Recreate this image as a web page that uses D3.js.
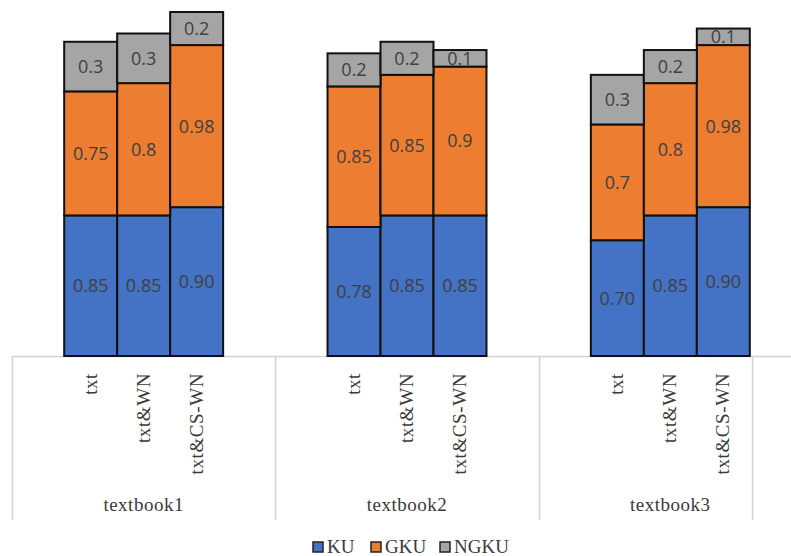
<!DOCTYPE html>
<html>
<head>
<meta charset="utf-8">
<script src="https://cdn.jsdelivr.net/npm/d3@7"></script>
<style>
  body { margin: 0; background: #fff; }
  svg { display: block; }
</style>
</head>
<body>
<div id="chart"></div>
<script>
// data
var groups = ["textbook1", "textbook2", "textbook3"];
var methods = ["txt", "txt&WN", "txt&CS-WN"];
var seriesNames = ["KU", "GKU", "NGKU"];
var colors = ["#4472C4", "#ED7D31", "#A5A5A5"];

// one row per group, one value per method
var KU   = [[0.85, 0.85, 0.90], [0.78, 0.85, 0.85], [0.70, 0.85, 0.90]];
var GKU  = [[0.75, 0.8, 0.98], [0.85, 0.85, 0.9], [0.7, 0.8, 0.98]];
var NGKU = [[0.3, 0.3, 0.2], [0.2, 0.2, 0.1], [0.3, 0.2, 0.1]];
// labels as printed on the bars
var KUlabels = [["0.85", "0.85", "0.90"], ["0.78", "0.85", "0.85"], ["0.70", "0.85", "0.90"]];

var width = 791, height = 556;
var baseY = 356, topY = 12;

var svg = d3.select("#chart").append("svg")
    .attr("width", width)
    .attr("height", height);

// flatten into rows for the stack
var rows = [];
groups.forEach(function(g, gi){
    methods.forEach(function(m, mi){
        rows.push({group: g, method: m, KU: KU[gi][mi], GKU: GKU[gi][mi], NGKU: NGKU[gi][mi],
                   labels: [KUlabels[gi][mi], String(GKU[gi][mi]), String(NGKU[gi][mi])]});
    });
});

var stacked = d3.stack().keys(seriesNames)(rows);

var x0 = d3.scaleBand().domain(groups).range([12, 802]).padding(0);
var x1 = d3.scaleBand().domain(methods).range([0, x0.bandwidth()]).paddingInner(0).paddingOuter(0.985);
var y = d3.scaleLinear()
    .domain([0, d3.max(rows, function(d){ return d.KU + d.GKU + d.NGKU; })])
    .range([baseY, topY]);

// category axis frame
var axisColor = "#d3d3d3";
svg.append("line")
    .attr("x1", 12).attr("x2", width)
    .attr("y1", baseY + 0.5).attr("y2", baseY + 0.5)
    .attr("stroke", axisColor).attr("stroke-width", 1.5);

var dividers = groups.map(function(g){ return x0(g); });
dividers.push(752); // right edge of the cropped plot
svg.selectAll(".divider")
    .data(dividers)
    .enter().append("line")
    .attr("class", "divider")
    .attr("x1", function(d){ return Math.round(d) + 0.5; })
    .attr("x2", function(d){ return Math.round(d) + 0.5; })
    .attr("y1", baseY).attr("y2", 520)
    .attr("stroke", axisColor).attr("stroke-width", 1.5);

// bars
var layer = svg.selectAll(".layer")
    .data(stacked)
    .enter().append("g")
    .attr("class", "layer")
    .attr("fill", function(d, i){ return colors[i]; });

layer.selectAll("rect")
    .data(function(d){ return d; })
    .enter().append("rect")
    .attr("x", function(d){ return x0(d.data.group) + x1(d.data.method); })
    .attr("width", x1.bandwidth())
    .attr("y", function(d){ return y(d[1]); })
    .attr("height", function(d){ return y(d[0]) - y(d[1]); })
    .attr("stroke", "#111")
    .attr("stroke-width", 2);

// data labels
stacked.forEach(function(s, si){
    svg.append("g").selectAll("text")
        .data(s)
        .enter().append("text")
        .attr("x", function(d){ return x0(d.data.group) + x1(d.data.method) + x1.bandwidth() / 2; })
        .attr("y", function(d){ return (y(d[0]) + y(d[1])) / 2; })
        .attr("dy", "0.36em")
        .attr("text-anchor", "middle")
        .attr("font-family", "'Open Sans', sans-serif")
        .attr("font-size", 18)
        .attr("fill", "#404040")
        .text(function(d){ return d.data.labels[si]; });
});

// rotated method labels
svg.append("g").selectAll("text")
    .data(rows)
    .enter().append("text")
    .attr("transform", function(d){
        var cx = x0(d.group) + x1(d.method) + x1.bandwidth() / 2 + 6;
        return "translate(" + cx + "," + 373 + ")rotate(-90)";
    })
    .attr("text-anchor", "end")
    .attr("font-family", "'Liberation Serif', 'Times New Roman', serif")
    .attr("font-size", 19)
    .attr("letter-spacing", 0.6)
    .attr("fill", "#3a3a3a")
    .text(function(d){ return d.method; });

// group labels
svg.append("g").selectAll("text")
    .data(groups)
    .enter().append("text")
    .attr("x", function(d){ return x0(d) + x0.bandwidth() / 2; })
    .attr("y", 511)
    .attr("text-anchor", "middle")
    .attr("font-family", "'Liberation Serif', 'Times New Roman', serif")
    .attr("font-size", 19)
    .attr("letter-spacing", 0.5)
    .attr("fill", "#3a3a3a")
    .text(function(d){ return d; });

// legend
var legendX = [313, 371, 440];
var legend = svg.selectAll(".legend")
    .data(seriesNames)
    .enter().append("g")
    .attr("class", "legend")
    .attr("transform", function(d, i){ return "translate(" + legendX[i] + ",542)"; });

legend.append("rect")
    .attr("width", 10).attr("height", 10)
    .attr("fill", function(d, i){ return colors[i]; })
    .attr("stroke", "#222").attr("stroke-width", 1.5);

legend.append("text")
    .attr("x", 14).attr("y", 11)
    .attr("font-family", "'Liberation Serif', 'Times New Roman', serif")
    .attr("font-size", 19)
    .attr("fill", "#3a3a3a")
    .text(function(d){ return d; });
</script>
</body>
</html>
